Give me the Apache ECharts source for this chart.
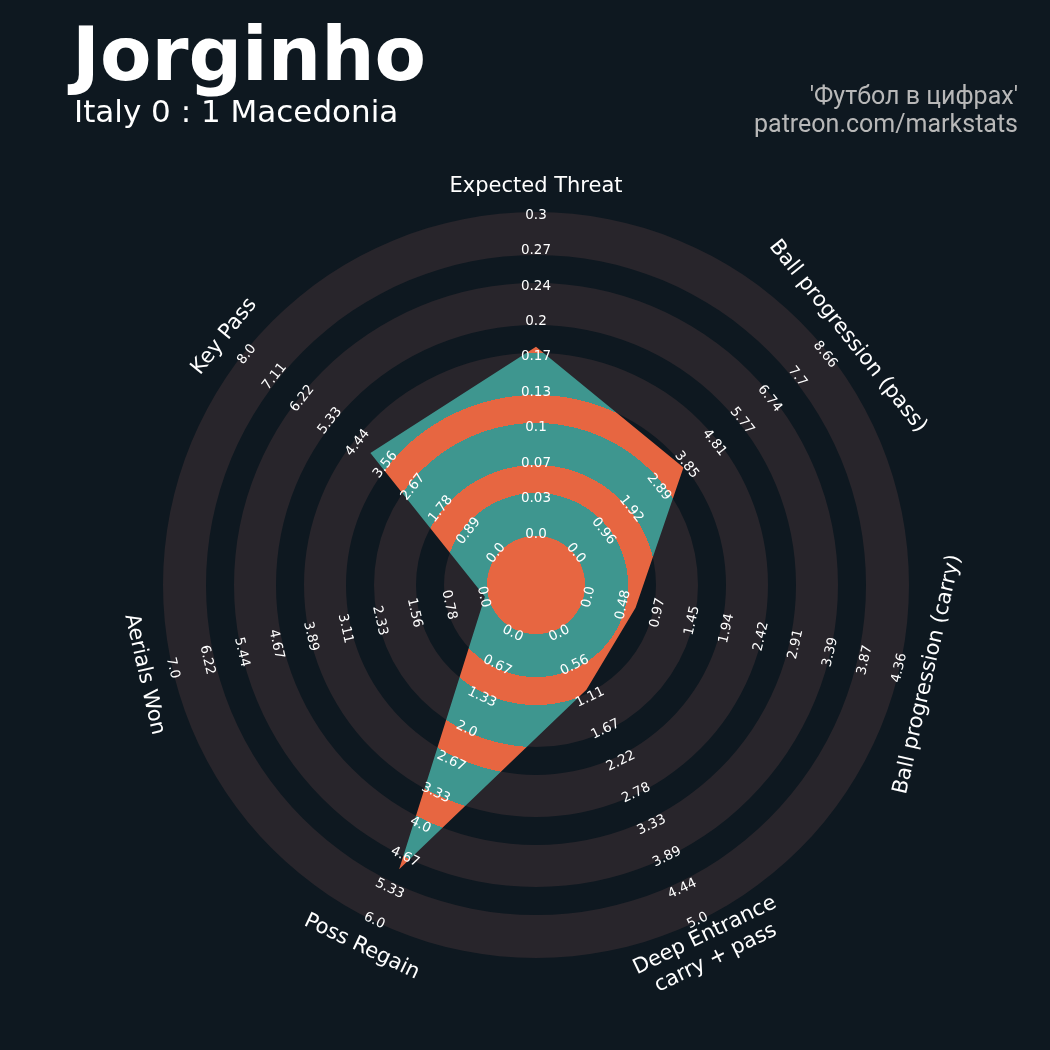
<!DOCTYPE html>
<html>
<head>
<meta charset="utf-8">
<style>
  html, body { margin: 0; padding: 0; background: #0e1820; }
  #main { width: 1050px; height: 1050px; }
</style>
<script src="https://cdn.jsdelivr.net/npm/echarts@6/dist/echarts.min.js"></script>
</head>
<body>
<div id="main"></div>
<script>
// ---------------- data ----------------
const params = [
  'Expected Threat',
  'Ball progression (pass)',
  'Ball progression (carry)',
  'Deep Entrance\ncarry + pass',
  'Poss Regain',
  'Aerials Won',
  'Key Pass'
];
const values = [0.175, 3.70, 0.68, 1.0, 4.95, 0.0, 4.0];
const axisMin = [0, 0, 0, 0, 0, 0, 0];
const axisMax = [0.3, 8.66, 4.36, 5.0, 6.0, 7.0, 8.0];
const tickLabels = [
  ['0.0', '0.03', '0.07', '0.1', '0.13', '0.17', '0.2', '0.24', '0.27', '0.3'],
  ['0.0', '0.96', '1.92', '2.89', '3.85', '4.81', '5.77', '6.74', '7.7', '8.66'],
  ['0.0', '0.48', '0.97', '1.45', '1.94', '2.42', '2.91', '3.39', '3.87', '4.36'],
  ['0.0', '0.56', '1.11', '1.67', '2.22', '2.78', '3.33', '3.89', '4.44', '5.0'],
  ['0.0', '0.67', '1.33', '2.0', '2.67', '3.33', '4.0', '4.67', '5.33', '6.0'],
  ['0.0', '0.78', '1.56', '2.33', '3.11', '3.89', '4.67', '5.44', '6.22', '7.0'],
  ['0.0', '0.89', '1.78', '2.67', '3.56', '4.44', '5.33', '6.22', '7.11', '8.0']
];
const titleText = 'Jorginho';
const subtitleText = 'Italy 0 : 1 Macedonia';
const creditLines = ["'Футбол в цифрах'", 'patreon.com/markstats'];

// ---------------- style ----------------
const BG = '#0e1820';
const RING = '#28252b';
const TEAL = '#3e968f';
const ORANGE = '#e76641';
const CENTER = [536, 585];
const RANGE_R = [52.4, 371.2];          // value min .. value max radius
const CENTER_CIRCLE = 49;
const BAND_EDGES = [49, 92, 120, 162, 190, 232, 260, 302, 330, 373]; // gray/teal bands [e0,e1],[e2,e3],...
const OUTER = 373;
const NAME_GAP = 29;
const TEXT_DROP = 1.5;                   // matplotlib-like vertical centring

// ---------------- helpers built from data ----------------
const nLevels = tickLabels[0].length - 1;
const frac = (v, i) => (v - axisMin[i]) / (axisMax[i] - axisMin[i]);
const polyData = values.map((v, i) => [frac(v, i), i]);
const tickData = [];
tickLabels.forEach((labs, i) => labs.forEach((t, k) => tickData.push([k / nLevels, i, t])));
const nameData = params.map((p, i) => [1, i, p]);

function readableRotation(cx, cy, x, y) {
  let theta = Math.atan2(cy - y, x - cx) * 180 / Math.PI;
  let rot = theta - 90;
  while (rot > 90) rot -= 180;
  while (rot <= -90) rot += 180;
  return rot * Math.PI / 180;
}

function bandStops() {
  const stops = [];
  const push = (o, c) => stops.push({ offset: Math.min(1, o / OUTER), color: c });
  push(0, ORANGE); push(BAND_EDGES[0], ORANGE);
  for (let j = 0; j < BAND_EDGES.length - 1; j++) {
    const c = j % 2 === 0 ? TEAL : ORANGE;
    push(BAND_EDGES[j], c); push(BAND_EDGES[j + 1], c);
  }
  return stops;
}

function rotatedText(x, y, rotation, text, fontSize, lineHeight) {
  return {
    type: 'group', x: x, y: y, rotation: rotation,
    children: [{
      type: 'text', x: 0, y: TEXT_DROP,
      style: { text: text, fill: '#ffffff', fontSize: fontSize, fontFamily: 'DejaVu Sans',
               align: 'center', verticalAlign: 'middle', lineHeight: lineHeight }
    }]
  };
}

const chart = echarts.init(document.getElementById('main'), null, { renderer: 'canvas' });

const option = {
  backgroundColor: BG,
  animation: false,
  title: [
    { text: titleText, left: 72, top: 23, padding: 0,
      textStyle: { color: '#ffffff', fontSize: 75, fontWeight: 'bold', fontFamily: 'DejaVu Sans' } },
    { text: subtitleText, left: 74, top: 98, padding: 0,
      textStyle: { color: '#ffffff', fontSize: 31, fontWeight: 'normal', fontFamily: 'DejaVu Sans' } },
    { text: creditLines[0], right: 32, top: 85, padding: 0,
      textStyle: { color: '#b8b8b8', fontSize: 25, fontWeight: 'normal', fontFamily: 'Roboto' } },
    { text: creditLines[1], right: 32, top: 113, padding: 0,
      textStyle: { color: '#b8b8b8', fontSize: 25, fontWeight: 'normal', fontFamily: 'Roboto' } }
  ],
  polar: { center: CENTER, radius: RANGE_R },
  angleAxis: {
    type: 'category', data: params, startAngle: 90, clockwise: true, boundaryGap: false,
    axisLine: { show: false }, axisTick: { show: false }, axisLabel: { show: false },
    splitLine: { show: false }
  },
  radiusAxis: {
    type: 'value', min: 0, max: 1,
    axisLine: { show: false }, axisTick: { show: false }, axisLabel: { show: false },
    splitLine: { show: false }
  },
  series: [
    { // background rings
      type: 'custom', coordinateSystem: 'polar', silent: true, z: 1,
      data: [[0, 0]],
      renderItem: function (p, api) {
        const cs = p.coordSys;
        const children = [];
        for (let j = 0; j < BAND_EDGES.length; j += 2) {
          children.push({ type: 'ring', shape: { cx: cs.cx, cy: cs.cy, r0: BAND_EDGES[j], r: BAND_EDGES[j + 1] },
            style: { fill: RING } });
        }
        return { type: 'group', children: children };
      }
    },
    { // radar polygon
      type: 'custom', coordinateSystem: 'polar', silent: true, z: 2,
      data: polyData,
      renderItem: function (p, api) {
        if (p.dataIndex !== 0) return null;
        const cs = p.coordSys;
        const pts = polyData.map(d => api.coord([d[0], d[1]]));
        return {
          type: 'polygon', shape: { points: pts },
          style: { fill: { type: 'radial', x: cs.cx, y: cs.cy, r: OUTER, global: true, colorStops: bandStops() } }
        };
      }
    },
    { // center circle
      type: 'custom', coordinateSystem: 'polar', silent: true, z: 3,
      data: [[0, 0]],
      renderItem: function (p, api) {
        const cs = p.coordSys;
        return { type: 'circle', shape: { cx: cs.cx, cy: cs.cy, r: CENTER_CIRCLE }, style: { fill: ORANGE } };
      }
    },
    { // tick labels
      type: 'custom', coordinateSystem: 'polar', silent: true, z: 4,
      data: tickData,
      renderItem: function (p, api) {
        const cs = p.coordSys;
        const d = tickData[p.dataIndex];
        const pt = api.coord([d[0], d[1]]);
        return rotatedText(pt[0], pt[1], readableRotation(cs.cx, cs.cy, pt[0], pt[1]), d[2], 13.5, 16);
      }
    },
    { // parameter names
      type: 'custom', coordinateSystem: 'polar', silent: true, z: 4,
      data: nameData,
      renderItem: function (p, api) {
        const cs = p.coordSys;
        const d = nameData[p.dataIndex];
        const pt = api.coord([d[0], d[1]]);
        const dx = pt[0] - cs.cx, dy = pt[1] - cs.cy;
        const len = Math.hypot(dx, dy);
        const x = cs.cx + dx / len * (len + NAME_GAP);
        const y = cs.cy + dy / len * (len + NAME_GAP);
        return rotatedText(x, y, readableRotation(cs.cx, cs.cy, x, y), d[2], 21, 25);
      }
    }
  ]
};
chart.setOption(option);
</script>
</body>
</html>
